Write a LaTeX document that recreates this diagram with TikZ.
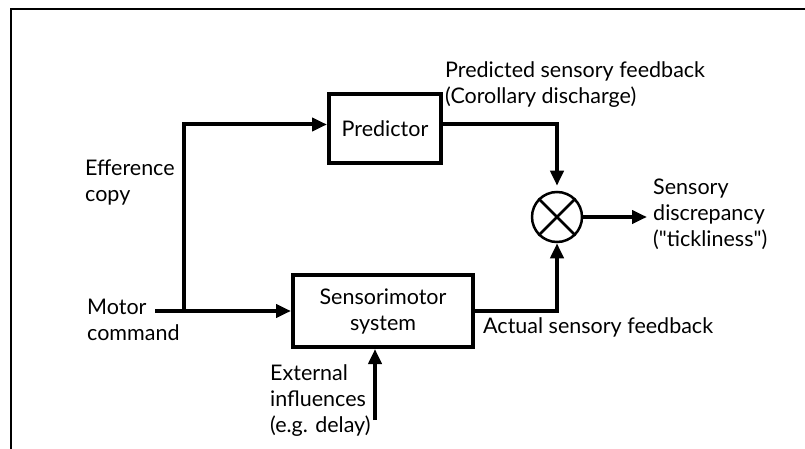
\documentclass[tikz,border=0pt]{standalone}
\usepackage{fontspec}
\setmainfont{Lato}
\usetikzlibrary{arrows.meta}

\begin{document}
\begin{tikzpicture}[x=1pt,y=-1pt,
    font=\fontsize{21.5}{26}\selectfont,
    blockbox/.style={draw,line width=4pt,align=center,inner sep=0pt},
    txtlabel/.style={align=left,inner sep=0pt,anchor=north west},
    flow/.style={line width=4pt,-{Triangle[length=15pt,width=13pt]}}]
    \useasboundingbox (0,0) rectangle (805,449);
    \draw[line width=2pt] (805,9) -- (11,9) -- (11,449);

    % blocks
    \node[blockbox,minimum width=112pt,minimum height=69pt] (pred) at (385,128.5) {Predictor};
    \node[blockbox,minimum width=180pt,minimum height=72pt] (sens) at (383,311) {Sensorimotor\\system};
    \node[draw,circle,line width=2.5pt,minimum size=50pt,inner sep=0pt] (sum) at (557,217) {};
    \draw[line width=2.5pt] (sum.north west) -- (sum.south east) (sum.north east) -- (sum.south west);

    % labels
    \node[txtlabel] (eff) at (85,160) {Efference\\copy};
    \node[txtlabel] (motor) at (87,299) {Motor\\command};
    \node[txtlabel] (pfb) at (445,61) {Predicted sensory feedback\\(Corollary discharge)};
    \node[txtlabel] (ext) at (270,364) {External\\influences\\(e.g. delay)};
    \node[txtlabel] (afb) at (483,317) {Actual sensory feedback};
    \node[txtlabel] (disc) at (653,179) {Sensory\\discrepancy\\(\textquotedbl tickliness\textquotedbl)};

    % connections
    \coordinate (cmd) at (155,311);
    \coordinate (split) at (184,311);
    \coordinate (extin) at (375,420);
    \coordinate (out) at (647,217);
    \draw[flow] (cmd) -- (cmd -| sens.west);
    \draw[flow] (split) |- ([yshift=4pt]pred.west);
    \draw[flow] ([yshift=4pt]pred.east) -| ([yshift=5pt]sum.north);
    \draw[flow] (sens.east) -| (sum.south);
    \draw[flow] (sum.east) -- (out);
    \draw[flow] (extin) -- (extin |- sens.south);
\end{tikzpicture}
\end{document}
